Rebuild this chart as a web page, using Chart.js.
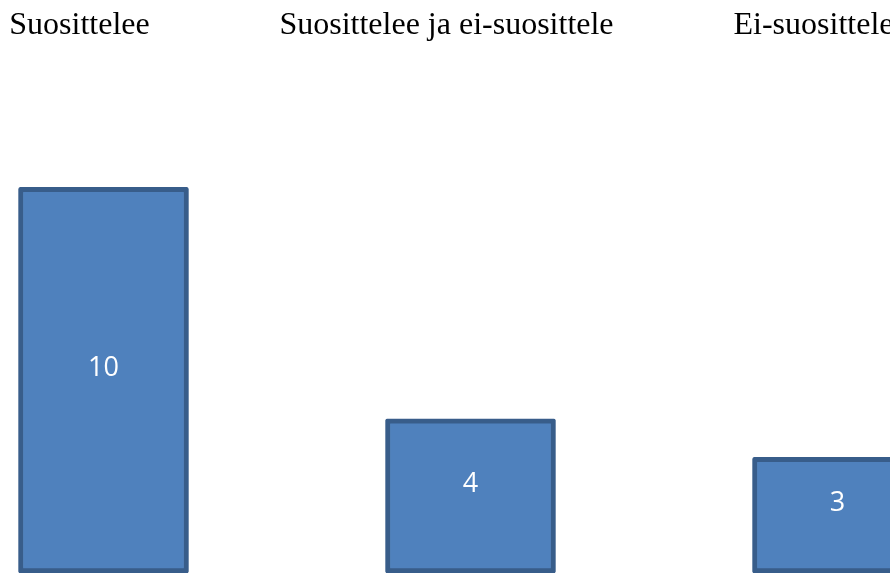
<!DOCTYPE html>
<html>
<head>
<meta charset="utf-8">
<script src="https://cdn.jsdelivr.net/npm/chart.js@4/dist/chart.umd.min.js"></script>
<style>
  html, body { margin: 0; padding: 0; background: #ffffff; overflow: hidden; width: 890px; height: 581px; }
  #wrap { position: absolute; left: -80px; top: 0; width: 1101px; height: 581px; }
</style>
</head>
<body>
<div id="wrap"><canvas id="c" width="1101" height="581"></canvas></div>
<script>
const categories = ["Suosittelee", "Suosittelee ja ei-suosittele", "Ei-suosittele"];
const counts = [10, 4, 3];

const valueLabels = {
  id: 'valueLabels',
  afterDatasetsDraw(chart) {
    const ctx = chart.ctx;
    const meta = chart.getDatasetMeta(0);
    ctx.save();
    ctx.fillStyle = '#ffffff';
    ctx.font = '27px "Open Sans", sans-serif';
    ctx.textAlign = 'center';
    ctx.textBaseline = 'middle';
    meta.data.forEach((bar, i) => {
      const mid = (bar.y + bar.base) / 2 - 12;
      ctx.fillText(String(counts[i]), bar.x, mid);
    });
    ctx.restore();
  }
};

new Chart(document.getElementById('c'), {
  type: 'bar',
  data: {
    labels: categories,
    datasets: [{
      data: counts,
      backgroundColor: '#4F81BD',
      borderColor: '#385D8A',
      borderWidth: 5,
      borderSkipped: false,
      borderRadius: 2,
      barThickness: 170
    }]
  },
  options: {
    responsive: false,
    animation: false,
    layout: { padding: { top: 0, bottom: 8, left: 0, right: 0 } },
    plugins: { legend: { display: false }, tooltip: { enabled: false } },
    scales: {
      x: {
        position: 'top',
        grid: { display: false, drawTicks: false },
        border: { display: false },
        ticks: {
          color: '#000000',
          font: { family: '"Liberation Serif", "Times New Roman", serif', size: 32 },
          labelOffset: -24,
          padding: 6,
          maxRotation: 0,
          autoSkip: false
        }
      },
      y: {
        display: false,
        min: 0,
        max: 13.55
      }
    }
  },
  plugins: [valueLabels]
});
</script>
</body>
</html>
